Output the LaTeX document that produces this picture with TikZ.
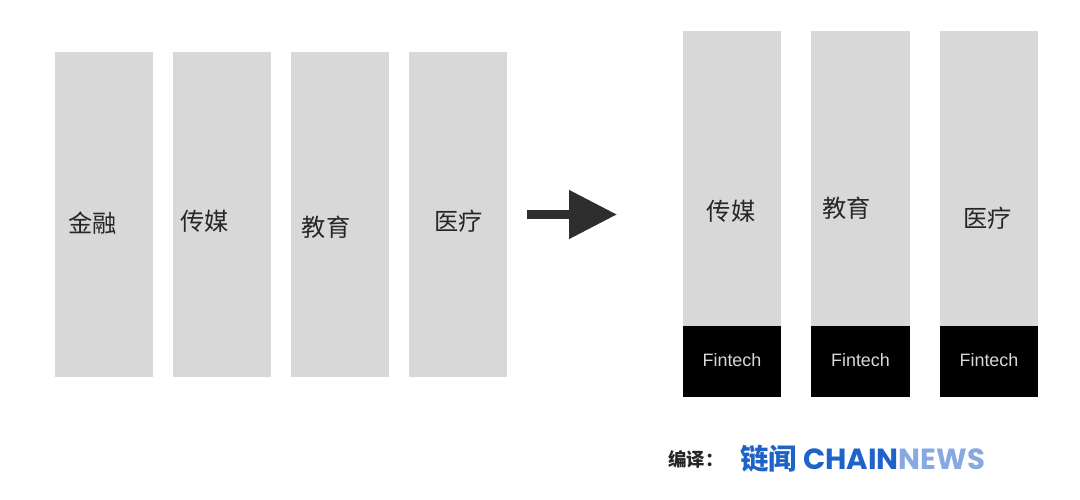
\documentclass[tikz,border=0pt]{standalone}
\usepackage{fontspec}
\setmainfont{Liberation Sans}
\newfontfamily\cjk{Noto Sans CJK SC}
\newfontfamily\logolatin{Poppins}
\usetikzlibrary{arrows.meta}
\definecolor{bargray}{HTML}{D8D8D8}
\definecolor{logoblue}{HTML}{1F63C8}
\definecolor{logolight}{HTML}{86A9E2}
\begin{document}
\begin{tikzpicture}[
    x=0.02cm, y=-0.02cm,
    tallbar/.style={rectangle, fill=bargray, minimum width=1.96cm, minimum height=6.5cm, inner sep=0pt},
    highbar/.style={rectangle, fill=bargray, minimum width=1.98cm, minimum height=5.9cm, inner sep=0pt},
    fintechbar/.style={rectangle, fill=black, text=white!85!black, minimum width=1.98cm, minimum height=1.42cm, inner sep=0pt, font=\fontsize{10.2pt}{12pt}\selectfont},
    barlabel/.style={inner sep=0pt, text=black!85, font=\cjk\fontsize{13.8pt}{16pt}\selectfont},
    bigarrow/.style={-{Triangle[length=27.3pt, width=26.6pt]}, line width=5pt, draw=black!82}
]
\useasboundingbox (0,0) rectangle (1080,500);

% Left group
\node[tallbar] (finance) at (104,214.5) {};
\node[tallbar] (media) at (222,214.5) {};
\node[tallbar] (education) at (340,214.5) {};
\node[tallbar] (health) at (458,214.5) {};
\node[barlabel] (financetext) at (92.5,223) {金融};
\node[barlabel] (mediatext) at (204.5,221) {传媒};
\node[barlabel] (educationtext) at (326,227) {教育};
\node[barlabel] (healthtext) at (458.5,221) {医疗};

% Arrow between the groups
\coordinate (arrowstart) at (527,214.5);
\coordinate (arrowend) at (617,214.5);
\draw[bigarrow] (arrowstart) -- (arrowend);

% Right group
\node[highbar] (mediatwo) at (732,178.5) {};
\node[highbar] (educationtwo) at (860.5,178.5) {};
\node[highbar] (healthtwo) at (989,178.5) {};
\node[fintechbar] (fintechone) at (732,361.5) {\raisebox{-2.8pt}[0pt][0pt]{Fintech}};
\node[fintechbar] (fintechtwo) at (860.5,361.5) {\raisebox{-2.8pt}[0pt][0pt]{Fintech}};
\node[fintechbar] (fintechthree) at (989,361.5) {\raisebox{-2.8pt}[0pt][0pt]{Fintech}};
\node[barlabel] (mediatwotext) at (731,211) {传媒};
\node[barlabel] (educationtwotext) at (846.5,208) {教育};
\node[barlabel] (healthtwotext) at (987.5,218) {医疗};

% Credit line
\node[inner sep=0pt, anchor=west, text=black!85, font=\cjk\bfseries\fontsize{10.5pt}{12pt}\selectfont] (credit) at (668,459) {编译：};
\node[inner sep=0pt, anchor=west, text=logoblue, font=\cjk\bfseries\fontsize{16.2pt}{18pt}\selectfont] (logocn) at (740,459) {链闻};
\node[inner sep=0pt, anchor=west, font=\logolatin\bfseries\fontsize{16.6pt}{18pt}\selectfont] (logoen) at (803,459) {\textcolor{logoblue}{CHAIN}\textcolor{logolight}{NEWS}};

\end{tikzpicture}
\end{document}
